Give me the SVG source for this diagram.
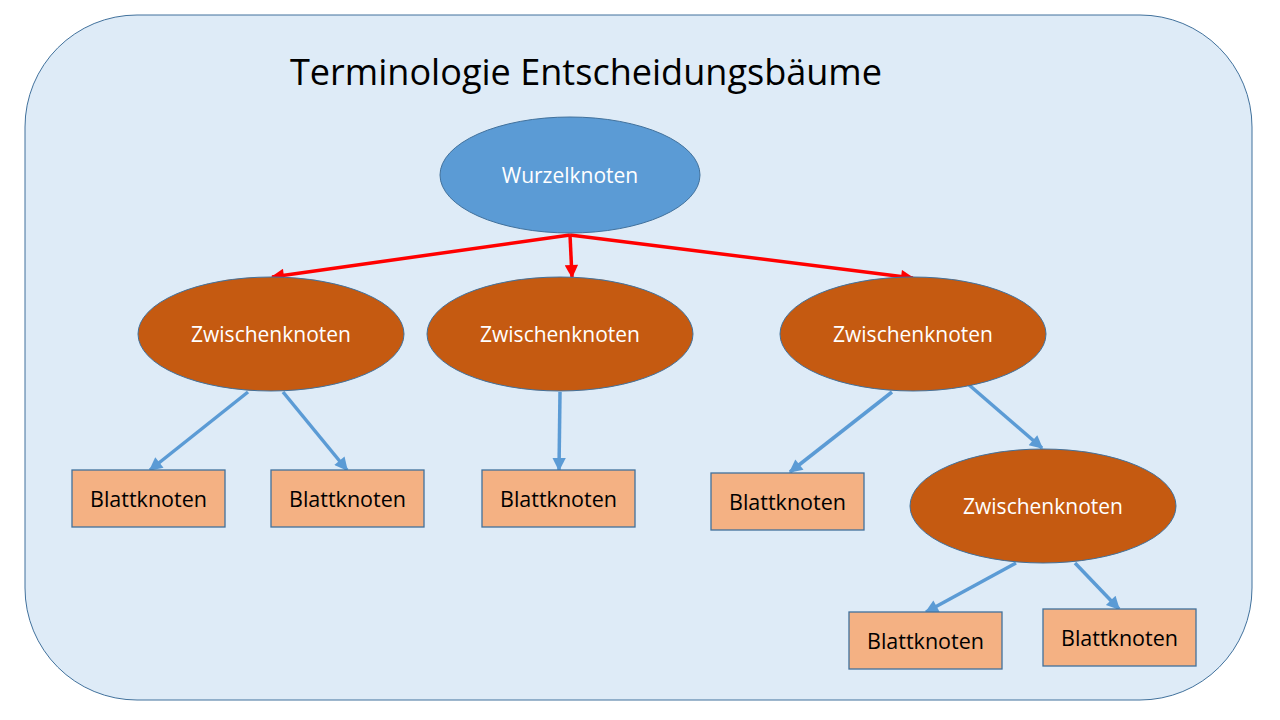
<svg xmlns="http://www.w3.org/2000/svg" width="1280" height="720" viewBox="0 0 1280 720">
<style>
.inner{fill:#C55A11;stroke:#41719C;stroke-width:1}
.leaf{fill:#F4B183;stroke:#41719C;stroke-width:1.3}
.wt{font-family:"Open Sans","Noto Sans","Liberation Sans",sans-serif;font-size:21px;fill:#FFFFFF;text-anchor:middle;dominant-baseline:central}
.bt{font-family:"Open Sans","Noto Sans","Liberation Sans",sans-serif;font-size:21.5px;fill:#000000;text-anchor:middle;dominant-baseline:central}
.red{stroke:#FF0000;stroke-width:3.5;fill:none;marker-end:url(#ar)}
.blue{stroke:#5B9BD5;stroke-width:3.5;fill:none;marker-end:url(#ab)}
</style>
<defs>
<marker id="ar" viewBox="0 0 10 10" refX="9" refY="5" markerWidth="4.3" markerHeight="3.8" orient="auto" markerUnits="strokeWidth"><path d="M0,0 L10,5 L0,10 z" fill="#FF0000"/></marker>
<marker id="ab" viewBox="0 0 10 10" refX="9" refY="5" markerWidth="4.3" markerHeight="3.8" orient="auto" markerUnits="strokeWidth"><path d="M0,0 L10,5 L0,10 z" fill="#5B9BD5"/></marker>
</defs>
<rect x="0" y="0" width="1280" height="720" fill="#FFFFFF"/>
<rect id="frame" x="25" y="15" width="1227" height="685" rx="112" ry="112" fill="#DEEBF7" stroke="#41719C" stroke-width="1"/>
<text id="title" x="586" y="85" font-family="'Open Sans','Noto Sans','Liberation Sans',sans-serif" font-size="36" fill="#000000" text-anchor="middle" textLength="592" lengthAdjust="spacingAndGlyphs">Terminologie Entscheidungsbäume</text>
<g id="connectors">
<line class="red" x1="570" y1="235" x2="272" y2="277"/>
<line class="red" x1="570" y1="235" x2="572" y2="277"/>
<line class="red" x1="570" y1="235" x2="913" y2="278"/>
<line class="blue" x1="248" y1="392" x2="150" y2="470"/>
<line class="blue" x1="283" y1="392" x2="347" y2="470"/>
<line class="blue" x1="560" y1="392" x2="559" y2="470"/>
<line class="blue" x1="892" y1="392" x2="790" y2="472"/>
<line class="blue" x1="968" y1="384" x2="1042" y2="448"/>
<line class="blue" x1="1016" y1="563" x2="926" y2="612"/>
<line class="blue" x1="1075" y1="563" x2="1119" y2="609"/>
</g>
<g id="root"><ellipse cx="570" cy="175" rx="130" ry="58" fill="#5B9BD5" stroke="#41719C" stroke-width="1"/><text class="wt" x="570" y="175">Wurzelknoten</text></g>
<g id="z1"><ellipse class="inner" cx="271" cy="334" rx="133" ry="57"/><text class="wt" x="271" y="334">Zwischenknoten</text></g>
<g id="z2"><ellipse class="inner" cx="560" cy="334" rx="133" ry="57"/><text class="wt" x="560" y="334">Zwischenknoten</text></g>
<g id="z3"><ellipse class="inner" cx="913" cy="334" rx="133" ry="57"/><text class="wt" x="913" y="334">Zwischenknoten</text></g>
<g id="z4"><ellipse class="inner" cx="1043" cy="506" rx="133" ry="57"/><text class="wt" x="1043" y="506">Zwischenknoten</text></g>
<g id="b1"><rect class="leaf" x="72" y="470" width="153" height="57"/><text class="bt" x="148.5" y="498.5">Blattknoten</text></g>
<g id="b2"><rect class="leaf" x="271" y="470" width="153" height="57"/><text class="bt" x="347.5" y="498.5">Blattknoten</text></g>
<g id="b3"><rect class="leaf" x="482" y="470" width="153" height="57"/><text class="bt" x="558.5" y="498.5">Blattknoten</text></g>
<g id="b4"><rect class="leaf" x="711" y="473" width="153" height="57"/><text class="bt" x="787.5" y="501.5">Blattknoten</text></g>
<g id="b5"><rect class="leaf" x="849" y="612" width="153" height="57"/><text class="bt" x="925.5" y="640.5">Blattknoten</text></g>
<g id="b6"><rect class="leaf" x="1043" y="609" width="153" height="57"/><text class="bt" x="1119.5" y="637.5">Blattknoten</text></g>
</svg>
